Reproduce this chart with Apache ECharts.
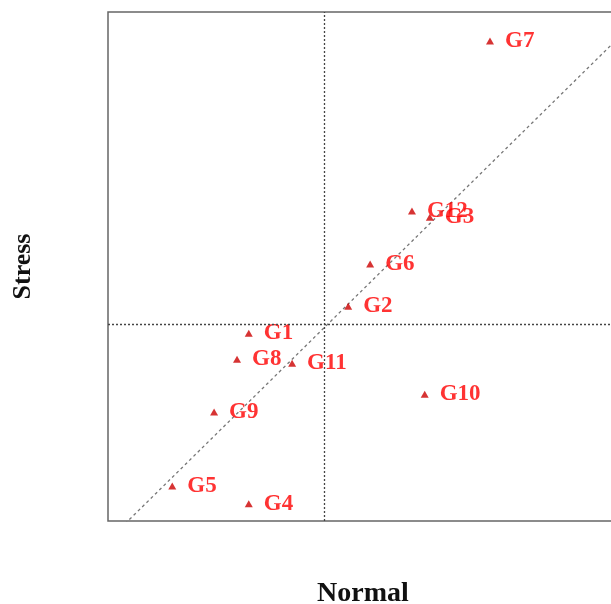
<!DOCTYPE html>
<html>
<head>
<meta charset="utf-8">
<script src="https://cdn.jsdelivr.net/npm/echarts@6/dist/echarts.min.js"></script>
<style>html,body{margin:0;padding:0;background:#fff}#c{width:611px;height:604px}</style>
</head>
<body>
<div id="c"></div>
<script>
const names = ['G1','G2','G3','G4','G5','G6','G7','G8','G9','G10','G11','G12'];
const normalVals = [27.6, 47.1, 63.1, 27.6, 12.6, 51.4, 74.9, 25.3, 20.8, 62.1, 36.1, 59.6];
const stressVals = [36.9, 42.2, 59.7, 3.4, 6.9, 50.5, 94.3, 31.8, 21.4, 24.9, 31.0, 60.9];
const meanNormal = 42.4;
const meanStress = 38.7;
const fitX = [0, 110];
const fitY = [-3.85, 104.7];

const chart = echarts.init(document.getElementById('c'));
const serif = '"Liberation Serif","DejaVu Serif",serif';
chart.setOption({
  animation: false,
  grid: {left: 108, top: 12, width: 510, height: 509, outerBoundsMode: 'none', containLabel: false,
         show: true, borderColor: '#666', borderWidth: 1.5, backgroundColor: 'transparent'},
  xAxis: {
    type: 'value', min: 0, max: 100,
    name: 'Normal', nameLocation: 'middle', nameGap: 59,
    nameTextStyle: {fontFamily: serif, fontWeight: 'bold', fontSize: 28, color: '#111'},
    axisLine: {show: false}, axisTick: {show: false}, axisLabel: {show: false}, splitLine: {show: false}
  },
  yAxis: {
    type: 'value', min: 0, max: 100,
    name: 'Stress', nameLocation: 'middle', nameGap: 72,
    nameTextStyle: {fontFamily: serif, fontWeight: 'bold', fontSize: 26, color: '#111'},
    axisLine: {show: false}, axisTick: {show: false}, axisLabel: {show: false}, splitLine: {show: false}
  },
  series: [
    {
      type: 'line',
      data: fitX.map((x, i) => [x, fitY[i]]),
      symbol: 'none',
      clip: true,
      lineStyle: {color: '#777', width: 1.3, type: [3, 3]},
      silent: true,
      z: 1
    },
    {
      type: 'scatter',
      data: names.map((n, i) => ({name: n, value: [normalVals[i], stressVals[i]]})),
      symbol: 'triangle',
      symbolSize: [8, 7],
      itemStyle: {color: '#cc0000'},
      label: {
        show: true, position: 'right', distance: 11, offset: [0, -2],
        formatter: p => p.name,
        fontFamily: serif, fontWeight: 'bold', fontSize: 23, color: '#ff0000'
      },
      labelLayout: {hideOverlap: false},
      markLine: {
        silent: true, symbol: 'none', label: {show: false},
        lineStyle: {color: '#444', width: 1.3, type: [2, 2]},
        data: [{xAxis: meanNormal}, {yAxis: meanStress}]
      },
      z: 3
    }
  ]
});
</script>
</body>
</html>
